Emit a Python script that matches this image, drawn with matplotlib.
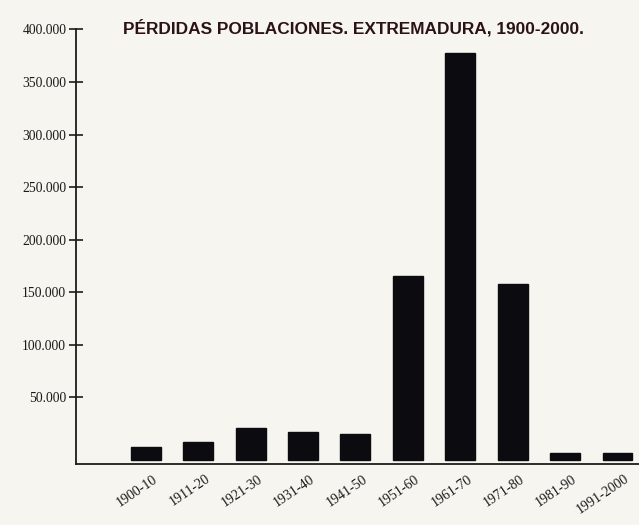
import matplotlib.pyplot as plt
import numpy as np
from matplotlib.ticker import FuncFormatter
from matplotlib.transforms import ScaledTranslation

periods = ["1900-10", "1911-20", "1921-30", "1931-40", "1941-50",
           "1951-60", "1961-70", "1971-80", "1981-90", "1991-2000"]
losses = [3000, 7700, 20800, 17000, 15000,
          165500, 378000, 157500, -2500, -2700]
y_ticks = [50000, 100000, 150000, 200000, 250000, 300000, 350000, 400000]

TITLE = "PÉRDIDAS POBLACIONES. EXTREMADURA, 1900-2000."
PAPER = "#f6f5f0"
INK = "#0b0b10"
BAR_FLOOR = -9500  # the printed bars sit a little above the axis line


def thousands(value, pos):
    return f"{int(value):,}".replace(",", ".")


fig = plt.figure(figsize=(6.39, 5.25), dpi=100, facecolor=PAPER)
ax = fig.add_axes([0.119, 0.116, 0.881, 0.828])
ax.set_facecolor(PAPER)

x = np.arange(len(periods))
heights = [v - BAR_FLOOR for v in losses]
ax.bar(x, heights, bottom=BAR_FLOOR, width=0.57, color=INK, edgecolor=INK)

ax.set_xlim(-1.33, 9.41)
ax.set_ylim(-13500, 400000)

for side in ("top", "right"):
    ax.spines[side].set_visible(False)
for side in ("left", "bottom"):
    ax.spines[side].set_color("#1c1c1c")
    ax.spines[side].set_linewidth(1.3)

ax.set_yticks(y_ticks)
ax.yaxis.set_major_formatter(FuncFormatter(thousands))
ax.tick_params(axis="y", direction="inout", length=10, width=1.2,
               color="#1c1c1c", pad=2, labelsize=9.8, labelcolor="#1a1a1a")
for lbl in ax.get_yticklabels():
    lbl.set_family("Liberation Serif")

ax.set_xticks(x)
ax.set_xticklabels(periods, rotation=34, ha="right", rotation_mode="anchor",
                   family="Liberation Serif", fontsize=10, color="#1a1a1a")
ax.tick_params(axis="x", length=0, pad=6)
offset = ScaledTranslation(5 / 72, 0, fig.dpi_scale_trans)
for lbl in ax.get_xticklabels():
    lbl.set_transform(lbl.get_transform() + offset)

fig.text(0.553, 0.947, TITLE, ha="center", va="center",
         family="Liberation Sans", fontweight="bold", fontsize=12.4,
         color="#2a1216")

fig.savefig("out.png", dpi=100, facecolor=PAPER)
